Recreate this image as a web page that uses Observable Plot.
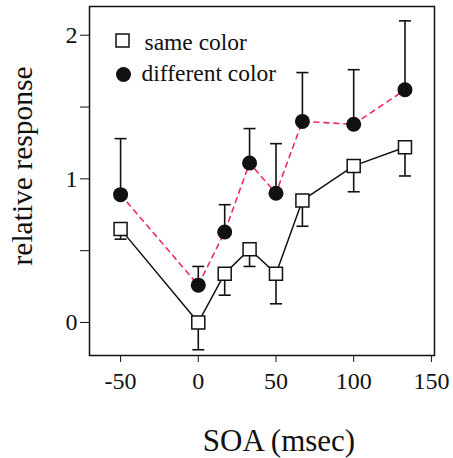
<!DOCTYPE html>
<html>
<head>
<meta charset="utf-8">
<script src="https://cdn.jsdelivr.net/npm/d3@7"></script>
<script src="https://cdn.jsdelivr.net/npm/@observablehq/plot@0.6"></script>
<style>
  html, body { margin: 0; padding: 0; background: #fff; }
</style>
</head>
<body>
<div id="chart"></div>
<script>
// SOA values (msec)
const soa = [-50, 0, 17, 33, 50, 67, 100, 133];
// same color: mean and lower error bar end
const sameColor = [0.65, 0.0, 0.34, 0.51, 0.34, 0.85, 1.09, 1.22];
const sameColorErr = [0.58, -0.19, 0.19, 0.39, 0.13, 0.67, 0.91, 1.02];
// different color: mean and upper error bar end
const diffColor = [0.89, 0.26, 0.63, 1.11, 0.90, 1.40, 1.38, 1.62];
const diffColorErr = [1.28, 0.39, 0.82, 1.35, 1.245, 1.74, 1.76, 2.10];
const xTicks = [-50, 0, 50, 100, 150];
const yTicks = [0, 0.5, 1, 1.5, 2];
const seriesNames = ["same color", "different color"];

const same = soa.map((x, i) => ({x, y: sameColor[i], e: sameColorErr[i]}));
const diff = soa.map((x, i) => ({x, y: diffColor[i], e: diffColorErr[i]}));

const squareSym = {draw(ctx) { ctx.rect(-6.5, -6.5, 13, 13); }};
const capSym = {draw(ctx) { ctx.moveTo(-6, 0); ctx.lineTo(6, 0); }};
const FONT = "Liberation Serif";

const chart = Plot.plot({
  width: 453,
  height: 458,
  marginLeft: 89,
  marginRight: 19,
  marginTop: 6,
  marginBottom: 103,
  style: {fontFamily: FONT, fontSize: "24px", color: "#111", background: "#fff"},
  x: {domain: [-70, 152], ticks: xTicks, tickFormat: d => `${d}`, tickSize: 7, tickPadding: 9, label: null},
  y: {domain: [-0.23, 2.2], ticks: yTicks, tickFormat: d => Number.isInteger(d) ? `${d}` : "", tickSize: 9, tickPadding: 3, label: null},
  marks: [
    Plot.frame({stroke: "#111", strokeWidth: 1.5}),
    // error bars
    Plot.ruleX(same, {x: "x", y1: "y", y2: "e", stroke: "#111", strokeWidth: 1.6}),
    Plot.dot(same, {x: "x", y: "e", symbol: capSym, stroke: "#111", strokeWidth: 1.6, fill: "none"}),
    Plot.ruleX(diff, {x: "x", y1: "y", y2: "e", stroke: "#111", strokeWidth: 1.6}),
    Plot.dot(diff, {x: "x", y: "e", symbol: capSym, stroke: "#111", strokeWidth: 1.6, fill: "none"}),
    // lines
    Plot.line(same, {x: "x", y: "y", stroke: "#111", strokeWidth: 1.5}),
    Plot.line(diff, {x: "x", y: "y", stroke: "#ee2b5b", strokeWidth: 1.6, strokeDasharray: "5,5"}),
    // markers
    Plot.dot(same, {x: "x", y: "y", symbol: squareSym, fill: "white", stroke: "#111", strokeWidth: 1.5}),
    Plot.dot(diff, {x: "x", y: "y", r: 7.5, fill: "#111", stroke: "none"}),
    // legend
    Plot.dot([seriesNames[0]], {frameAnchor: "top-left", dx: 33, dy: 34, symbol: squareSym, fill: "white", stroke: "#111", strokeWidth: 1.5}),
    Plot.text([seriesNames[0]], {frameAnchor: "top-left", dx: 55, dy: 36, textAnchor: "start", lineAnchor: "middle", fontSize: 23.5, fill: "#111"}),
    Plot.dot([seriesNames[1]], {frameAnchor: "top-left", dx: 34, dy: 68, r: 7.5, fill: "#111"}),
    Plot.text([seriesNames[1]], {frameAnchor: "top-left", dx: 52, dy: 67, textAnchor: "start", lineAnchor: "middle", fontSize: 23.5, fill: "#111"}),
    // axis labels
    Plot.text(["SOA (msec)"], {frameAnchor: "bottom", textAnchor: "middle", dx: 17, dy: 95, fontSize: 31, fill: "#111"}),
    Plot.text(["relative response"], {frameAnchor: "left", textAnchor: "middle", rotate: -90, dx: -67, dy: -15, fontSize: 29.5, fill: "#111"})
  ]
});
document.getElementById("chart").appendChild(chart);
</script>
</body>
</html>
